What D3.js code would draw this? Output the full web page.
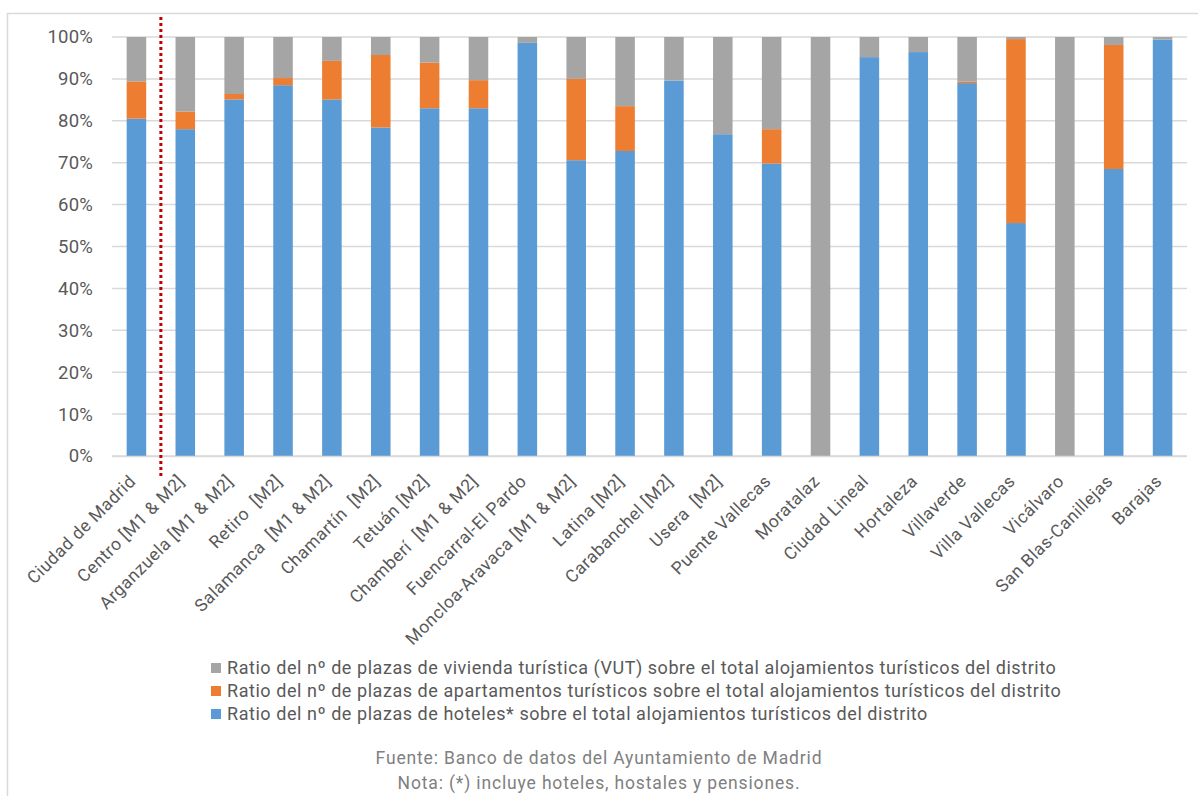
<!DOCTYPE html>
<html><head><meta charset="utf-8">
<script src="https://cdn.jsdelivr.net/npm/d3@7"></script>
<style>
html,body{margin:0;padding:0;background:#fff;}
text{font-family:Roboto,"Liberation Sans",sans-serif;white-space:pre;}
</style></head>
<body><svg id="c" width="1198" height="796"></svg>
<script>
const categories = ["Ciudad de Madrid","Centro [M1 & M2]","Arganzuela [M1 & M2]","Retiro  [M2]","Salamanca  [M1 & M2]","Chamartín  [M2]","Tetuán [M2]","Chamberí  [M1 & M2]","Fuencarral-El Pardo","Moncloa-Aravaca [M1 & M2]","Latina [M2]","Carabanchel [M2]","Usera  [M2]","Puente Vallecas","Moratalaz","Ciudad Lineal","Hortaleza","Villaverde","Villa Vallecas","Vicálvaro","San Blas-Canillejas","Barajas"];
const hoteles      = [80.5,78.0,85.1,88.5,85.1,78.4,83.0,83.0,98.6,70.6,72.8,89.6,76.8,69.8,0,95.2,96.4,89.0,55.6,0,68.5,99.4];
const apartamentos = [8.9,4.2,1.3,1.7,9.2,17.3,10.9,6.7,0,19.4,10.7,0,0,8.2,0,0,0,0.4,43.9,0,29.6,0];
const vut          = [10.6,17.8,13.6,9.8,5.7,4.3,6.1,10.3,1.4,10.0,16.5,10.4,23.2,22.0,100,4.8,3.6,10.6,0.5,100,1.9,0.6];
const yTicks = [0,10,20,30,40,50,60,70,80,90,100];
const seriesNames = {
  vut:"Ratio del nº de plazas de vivienda turística (VUT) sobre el total alojamientos turísticos del distrito",
  apartamentos:"Ratio del nº de plazas de apartamentos turísticos sobre el total alojamientos turísticos del distrito",
  hoteles:"Ratio del nº de plazas de hoteles* sobre el total alojamientos turísticos del distrito"
};
const footer = ["Fuente: Banco de datos del Ayuntamiento de Madrid","Nota: (*) incluye hoteles, hostales y pensiones."];
const colors = {hoteles:"#5B9BD5", apartamentos:"#ED7D31", vut:"#A5A5A5"};

const svg = d3.select("#c");
svg.append("path").attr("d","M7.5,796 V13.5 H1198").attr("fill","none").attr("stroke","#d9d9d9").attr("stroke-width",1.5);

const pLeft=112, pRight=1187, pTop=37, pBottom=456;
const x = d3.scaleBand().domain(categories).range([pLeft,pRight]).paddingInner(0.6).paddingOuter(0.3);
const y = d3.scaleLinear().domain([0,100]).range([pBottom,pTop]);

svg.append("g").selectAll("line").data(yTicks).join("line")
  .attr("x1",pLeft).attr("x2",pRight).attr("y1",d=>y(d)).attr("y2",d=>y(d))
  .attr("stroke","#d9d9d9").attr("stroke-width",1.5);

const yAxis = d3.axisLeft(y).tickValues(yTicks).tickFormat(d=>d+"%").tickSize(0).tickPadding(19);
const ya = svg.append("g").attr("transform",`translate(${pLeft},0)`).call(yAxis);
ya.select(".domain").remove();
ya.selectAll("text").attr("fill","#595959").style("font-size","18.5px").style("letter-spacing","0.2px");

const keys = ["hoteles","apartamentos","vut"];
const rows = categories.map((c,i)=>({cat:c,hoteles:hoteles[i],apartamentos:apartamentos[i],vut:vut[i]}));
const stack = d3.stack().keys(keys)(rows);
svg.append("g").selectAll("g").data(stack).join("g").attr("fill",d=>colors[d.key])
  .selectAll("rect").data(d=>d).join("rect")
  .attr("x",d=>x(d.data.cat)).attr("width",x.bandwidth())
  .attr("y",d=>y(d[1])).attr("height",d=>Math.max(0,y(d[0])-y(d[1])));

const xAxis = d3.axisBottom(x).tickSize(0).tickPadding(0);
const xa = svg.append("g").attr("transform",`translate(0,${pBottom})`).call(xAxis);
xa.select(".domain").attr("stroke","#d9d9d9").attr("stroke-width",1.5).attr("d",`M${pLeft},0.5H${pRight}`);
xa.selectAll("text").attr("fill","#595959").style("font-size","17.5px").style("letter-spacing","0.5px")
  .attr("text-anchor","end").attr("dy","0.35em")
  .attr("transform","translate(-4,22) rotate(-45)");

const sepX = (x(categories[0])+x.bandwidth()+x(categories[1]))/2;
svg.append("line").attr("x1",sepX).attr("x2",sepX).attr("y1",17).attr("y2",477)
  .attr("stroke","#C00000").attr("stroke-width",3).attr("stroke-dasharray","3,3");

const leg = svg.append("g");
["vut","apartamentos","hoteles"].forEach((k,i)=>{
  const cy = 668 + i*23;
  leg.append("rect").attr("x",211).attr("y",cy-5).attr("width",10).attr("height",10).attr("fill",colors[k]);
  leg.append("text").attr("x",227).attr("y",cy).attr("dy","0.35em").attr("fill","#595959")
    .style("font-size","18px").style("letter-spacing","0.55px").text(seriesNames[k]);
});

footer.forEach((t,i)=>{
  svg.append("text").attr("x",599).attr("y",758+i*25).attr("dy","0.35em").attr("text-anchor","middle")
    .attr("fill","#808080").style("font-size","17.5px").style("letter-spacing","0.85px").text(t);
});
</script></body></html>
